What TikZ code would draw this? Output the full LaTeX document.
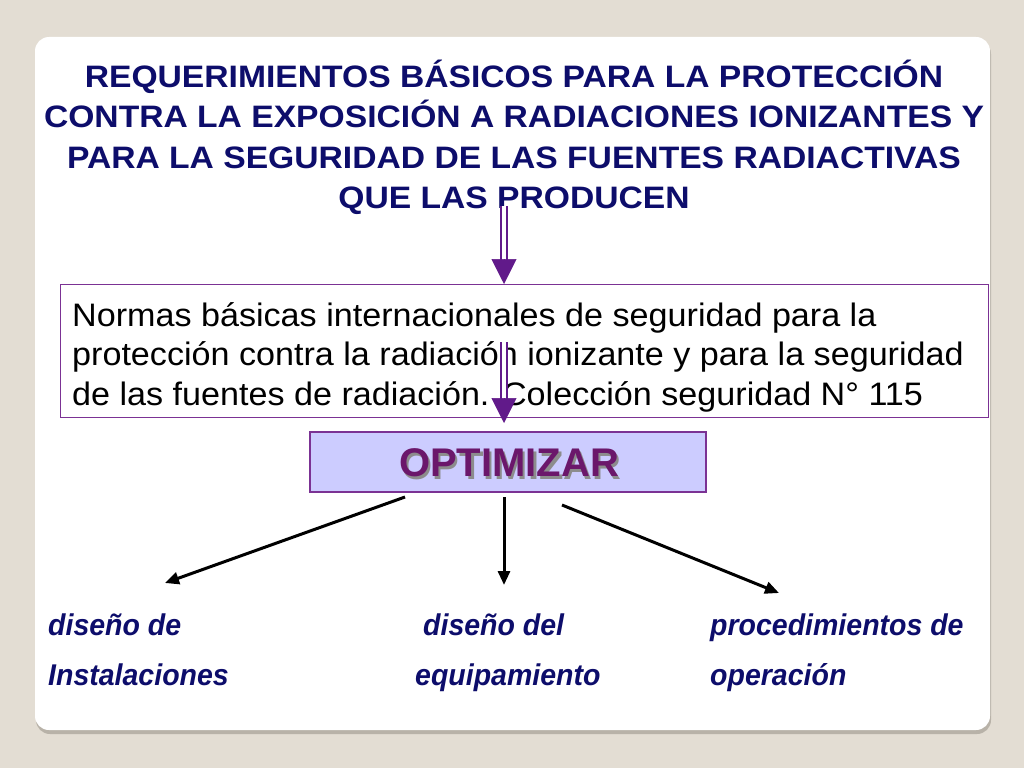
\documentclass[tikz,border=0pt]{standalone}
\usepackage{fontspec}
\setmainfont{Liberation Sans}
\newfontfamily\titlef[FakeStretch=1.085]{Liberation Sans}
\newfontfamily\bodyf[FakeStretch=1.05]{Liberation Sans}
\newfontfamily\labf[FakeStretch=0.95]{Liberation Sans}
\usetikzlibrary{arrows.meta}
\definecolor{bgc}{HTML}{E3DDD3}
\definecolor{shadowc}{HTML}{B8B2A8}
\definecolor{navy}{HTML}{0D0D6B}
\definecolor{arrowpurple}{HTML}{611A8A}
\definecolor{boxpurple}{HTML}{7B3294}
\definecolor{optfill}{HTML}{CCCCFF}
\definecolor{opttextc}{HTML}{6B176B}
\definecolor{optshadc}{HTML}{8C8C8C}
\tikzset{
  titleline/.style={anchor=base, inner sep=0pt, text=navy, font=\titlef\bfseries\fontsize{31}{36}\selectfont},
  bodyline/.style={anchor=base west, inner sep=0pt, text=black, font=\bodyf\fontsize{32.5}{38}\selectfont},
  lab/.style={anchor=base west, inner sep=0pt, text=navy, font=\labf\bfseries\itshape\fontsize{30}{36}\selectfont},
  normbox/.style={draw=boxpurple, line width=1.2pt, fill=white, rectangle, anchor=north west, minimum width=928pt, minimum height=133pt, inner sep=0pt},
  optbox/.style={draw=boxpurple, line width=1.2pt, fill=optfill, rectangle, minimum width=396pt, minimum height=60pt, inner sep=0pt},
  opttext/.style={inner sep=0pt, text=opttextc, font=\bfseries\fontsize{40}{48}\selectfont},
  dblshaft/.style={draw=arrowpurple, line width=1.6pt, double=white, double distance=4.2pt},
  headonly/.style={draw=arrowpurple, fill=arrowpurple, line width=0.5pt, -{Triangle[length=25pt,width=25pt]}},
  blackarrow/.style={draw=black, line width=3pt, -{Triangle[length=14pt,width=12pt]}}
}
\begin{document}
\begin{tikzpicture}[x=1pt,y=-1pt]
\useasboundingbox (0,0) rectangle (1024,768);
\fill[bgc] (0,0) rectangle (1024,768);
% card
\fill[shadowc, rounded corners=14pt] (36,40) rectangle (991,734);
\fill[white, rounded corners=14pt] (35,37) rectangle (990,730);
% title
\node[titleline] (t1) at (514,87) {REQUERIMIENTOS BÁSICOS PARA LA PROTECCIÓN};
\node[titleline] (t2) at (514,127.5) {CONTRA LA EXPOSICIÓN A RADIACIONES IONIZANTES Y};
\node[titleline] (t3) at (514,168) {PARA LA SEGURIDAD DE LAS FUENTES RADIACTIVAS};
\node[titleline] (t4) at (514,208.5) {QUE LAS PRODUCEN};
% norms box
\node[normbox] (norm) at (60,284) {};
\node[bodyline] (n1) at (72,326) {Normas básicas internacionales de seguridad para la};
\node[bodyline] (n2) at (72,365) {protección contra la radiación ionizante y para la seguridad};
\node[bodyline] (n3) at (72,405) {de las fuentes de radiación. Colección seguridad N° 115};
% purple arrows
\coordinate (a1s) at (504,206);
\coordinate (a1e) at (a1s |- norm.north);
\draw[dblshaft] (a1s) -- ([yshift=22pt]a1e);
\draw[headonly] ([yshift=24pt]a1e) -- (a1e);
% OPTIMIZAR box
\node[optbox] (opt) at (508,462) {};
\coordinate (a2s) at (504,342);
\coordinate (a2e) at (504,423);
\draw[dblshaft] (a2s) -- ([yshift=22pt]a2e);
\draw[headonly] ([yshift=24pt]a2e) -- (a2e);
\node[opttext] (optt) at (509,463) {\rlap{\kern2.5pt\raisebox{-2.5pt}[0pt][0pt]{\color{optshadc}OPTIMIZAR}}OPTIMIZAR};
% black arrows
\coordinate (b1s) at (405,497);
\coordinate (b1e) at (165,583);
\coordinate (b2s) at (504,497);
\coordinate (b2e) at (504,585);
\coordinate (b3s) at (562,505);
\coordinate (b3e) at (779,593);
\draw[blackarrow] (b1s) -- (b1e);
\draw[blackarrow] (b2s) -- (b2e);
\draw[blackarrow] (b3s) -- (b3e);
% labels
\node[lab] (l1a) at (48,635) {diseño de};
\node[lab] (l1b) at (48,685) {Instalaciones};
\node[lab] (l2a) at (423,635) {diseño del};
\node[lab] (l2b) at (415,685) {equipamiento};
\node[lab] (l3a) at (710,635) {procedimientos de};
\node[lab] (l3b) at (710,685) {operación};
\end{tikzpicture}
\end{document}
